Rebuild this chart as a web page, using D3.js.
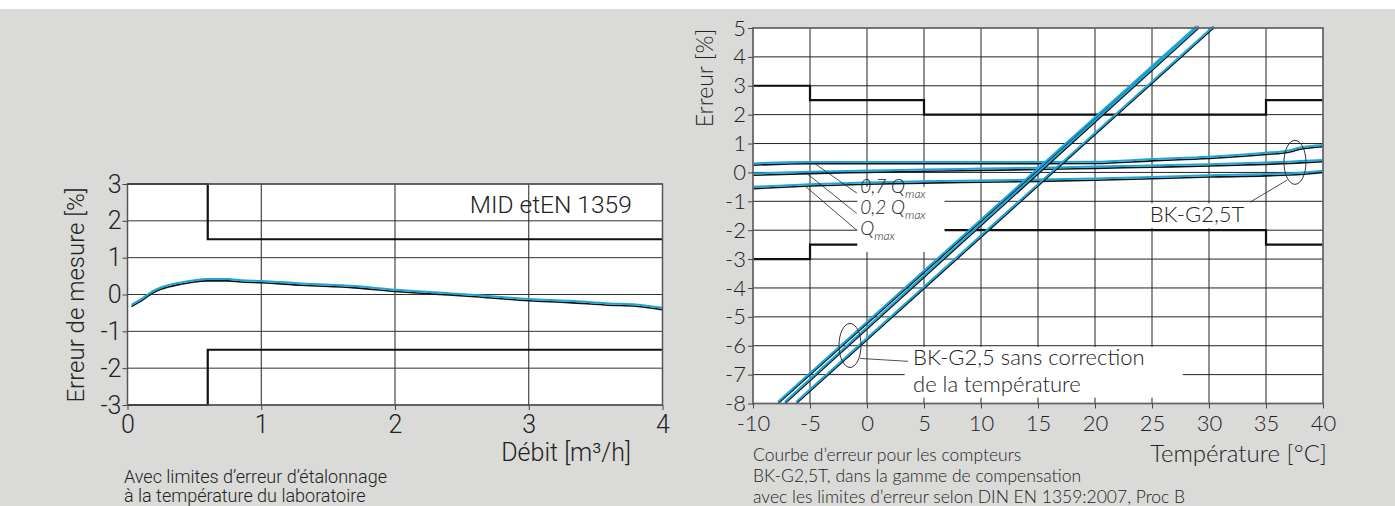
<!DOCTYPE html>
<html>
<head>
<meta charset="utf-8">
<script src="https://cdn.jsdelivr.net/npm/d3@7"></script>
<style>
  body { margin: 0; background: #dadad8; }
  svg { display: block; }
  .lf { font-family: Roboto, sans-serif; font-weight: 300; fill: #222; }
  .rf { font-family: Lato, sans-serif; font-weight: 300; fill: #222; }
</style>
</head>
<body>
<svg id="chart" width="1395" height="506"></svg>
<script>
// left chart: error vs flow rate
const flowTicks = [0, 1, 2, 3, 4];
const flowErrTicks = [-3, -2, -1, 0, 1, 2, 3];
const flowX = [0.03, 0.1, 0.2, 0.25, 0.4, 0.5, 0.6, 0.75, 0.85, 1.0, 1.3, 1.7, 2.0, 2.3, 2.6, 3.0, 3.3, 3.6, 3.8, 4.0];
const flowErr = [-0.33, -0.18, 0.06, 0.14, 0.28, 0.34, 0.37, 0.37, 0.34, 0.32, 0.25, 0.18, 0.08, 0.01, -0.06, -0.17, -0.22, -0.29, -0.32, -0.41];
const limitFlow = [0, 0.6, 0.6, 4];
const limitFlowUpper = [3, 3, 1.5, 1.5];
const limitFlowLower = [-3, -3, -1.5, -1.5];

// right chart: error vs temperature
const tempTicks = [-10, -5, 0, 5, 10, 15, 20, 25, 30, 35, 40];
const tempErrTicks = [-8, -7, -6, -5, -4, -3, -2, -1, 0, 1, 2, 3, 4, 5];
const tempX = [-10, -5, 0, 5, 10, 15, 20, 25, 30, 35, 37, 38, 40];
const err07 = [0.25, 0.3, 0.3, 0.3, 0.3, 0.3, 0.31, 0.4, 0.48, 0.62, 0.7, 0.8, 0.89];
const err02 = [-0.1, -0.04, 0.0, 0.04, 0.07, 0.1, 0.14, 0.18, 0.22, 0.28, 0.31, 0.33, 0.37];
const errMax = [-0.56, -0.47, -0.41, -0.37, -0.34, -0.31, -0.27, -0.22, -0.16, -0.12, -0.09, -0.07, 0.0];
const tempLimit = [-10, -5, -5, 5, 5, 35, 35, 40];
const tempLimitUpper = [3, 3, 2.5, 2.5, 2, 2, 2.5, 2.5];
const tempLimitLower = [-3, -3, -2.5, -2.5, -2, -2, -2.5, -2.5];
// uncorrected meters: temperature at error -8 and at error +5
const uncorrTemp = [[-7.8, 28.9], [-7.2, 29.1], [-6.2, 30.4]];
const uncorrErr = [-8, 5];

const svg = d3.select("#chart");
svg.append("rect").attr("width", 1395).attr("height", 9).attr("fill", "#fff");

const cyan = "#1ba5d8";
const fmt = d => String(d);

function drawDouble(g, line, pts) {
  g.append("path").attr("d", line(pts)).attr("fill", "none")
    .attr("stroke", "#111").attr("stroke-width", 1.6);
  g.append("path").attr("d", line(pts)).attr("fill", "none")
    .attr("stroke", cyan).attr("stroke-width", 2)
    .attr("transform", "translate(0,-1.8)");
}

// ---------- left chart ----------
const xL = d3.scaleLinear().domain([0, 4]).range([127.5, 662.5]);
const yL = d3.scaleLinear().domain([-3, 3]).range([405, 184]);
const gl = svg.append("g");

gl.append("rect").attr("x", xL(0)).attr("y", yL(3))
  .attr("width", xL(4) - xL(0)).attr("height", yL(-3) - yL(3)).attr("fill", "#fff");

gl.selectAll(".gx").data(flowTicks.slice(1, -1)).enter().append("line")
  .attr("x1", d => xL(d)).attr("x2", d => xL(d))
  .attr("y1", yL(3)).attr("y2", yL(-3)).attr("stroke", "#222").attr("stroke-width", 1);
gl.selectAll(".gy").data(flowErrTicks).enter().append("line")
  .attr("x1", xL(0)).attr("x2", xL(4))
  .attr("y1", d => yL(d)).attr("y2", d => yL(d)).attr("stroke", "#333").attr("stroke-width", 1);

const lineL = d3.line().x(d => xL(d[0])).y(d => yL(d[1]));
[limitFlowUpper, limitFlowLower].forEach(lim => {
  gl.append("path").attr("d", lineL(limitFlow.map((x, i) => [x, lim[i]])))
    .attr("fill", "none").attr("stroke", "#111").attr("stroke-width", 2.2);
});

drawDouble(gl, lineL.curve(d3.curveMonotoneX), flowX.map((x, i) => [x, flowErr[i]]));

gl.append("rect").attr("x", xL(0)).attr("y", yL(3))
  .attr("width", xL(4) - xL(0)).attr("height", yL(-3) - yL(3))
  .attr("fill", "none").attr("stroke", "#555").attr("stroke-width", 1.5);

const axL = gl.append("g").attr("transform", `translate(${xL(0)},0)`)
  .call(d3.axisLeft(yL).tickValues(flowErrTicks).tickFormat(fmt).tickSize(5).tickPadding(1));
const axLb = gl.append("g").attr("transform", `translate(0,${yL(-3)})`)
  .call(d3.axisBottom(xL).tickValues(flowTicks).tickFormat(fmt).tickSize(5).tickPadding(5));
[axL, axLb].forEach(a => {
  a.select(".domain").remove();
  a.selectAll("line").attr("stroke", "#444");
  a.selectAll("text").attr("class", "lf").style("font-size", "25px");
});

gl.append("text").attr("class", "lf").attr("transform", "translate(84,295) rotate(-90)")
  .attr("text-anchor", "middle").style("font-size", "24px").text("Erreur de mesure [%]");
gl.append("text").attr("class", "lf").attr("x", xL(3.77)).attr("y", yL(2.2))
  .attr("text-anchor", "end").style("font-size", "24.5px").text("MID etEN 1359");
gl.append("text").attr("class", "lf").attr("x", 631).attr("y", 461)
  .attr("text-anchor", "end").style("font-size", "25px").text("Débit [m³/h]");
gl.append("text").attr("class", "lf").attr("x", 124).attr("y", 483)
  .style("font-size", "18px").text("Avec limites d’erreur d’étalonnage");
gl.append("text").attr("class", "lf").attr("x", 124).attr("y", 501.5)
  .style("font-size", "18px").text("à la température du laboratoire");

// ---------- right chart ----------
const xR = d3.scaleLinear().domain([-10, 40]).range([753, 1323]);
const yR = d3.scaleLinear().domain([-8, 5]).range([403.5, 28]);
const gr = svg.append("g");

gr.append("rect").attr("x", xR(-10)).attr("y", yR(5))
  .attr("width", xR(40) - xR(-10)).attr("height", yR(-8) - yR(5)).attr("fill", "#fff");

gr.selectAll(".gx").data(tempTicks.slice(1, -1)).enter().append("line")
  .attr("x1", d => xR(d)).attr("x2", d => xR(d))
  .attr("y1", yR(5)).attr("y2", yR(-8)).attr("stroke", "#222").attr("stroke-width", 1);
gr.selectAll(".gy").data(tempErrTicks.slice(1, -1)).enter().append("line")
  .attr("x1", xR(-10)).attr("x2", xR(40))
  .attr("y1", d => yR(d)).attr("y2", d => yR(d)).attr("stroke", "#222").attr("stroke-width", 1);

const lineR = d3.line().x(d => xR(d[0])).y(d => yR(d[1]));
[tempLimitUpper, tempLimitLower].forEach(lim => {
  gr.append("path").attr("d", lineR(tempLimit.map((x, i) => [x, lim[i]])))
    .attr("fill", "none").attr("stroke", "#111").attr("stroke-width", 2.2);
});

const smooth = d3.line().x(d => xR(d[0])).y(d => yR(d[1])).curve(d3.curveMonotoneX);
[err07, err02, errMax].forEach(s => drawDouble(gr, smooth, tempX.map((x, i) => [x, s[i]])));
uncorrTemp.forEach(t => drawDouble(gr, lineR, [[t[0], uncorrErr[0]], [t[1], uncorrErr[1]]]));

// white label boxes
const boxes = [[-0.85, 6.8, -0.5, -2.75], [24.6, 33.6, -1.07, -1.93], [3.3, 27.7, -6.04, -7.8]];
gr.selectAll(".box").data(boxes).enter().append("rect")
  .attr("x", d => xR(d[0])).attr("width", d => xR(d[1]) - xR(d[0]))
  .attr("y", d => yR(d[2])).attr("height", d => yR(d[3]) - yR(d[2])).attr("fill", "#fff");

// leaders
const leaders = [
  [[-4.56, 0.3], [-0.88, -0.72]],
  [[-5.3, -0.03], [-0.9, -1.42]],
  [[-5.44, -0.47], [-0.9, -2.0]],
  [[36.84, -0.27], [33.6, -1.03]],
  [[-0.61, -6.44], [3.6, -6.54]]
];
leaders.forEach(l => gr.append("path").attr("d", lineR(l))
  .attr("stroke", "#222").attr("stroke-width", 0.8).attr("fill", "none"));

const ellipses = [[-1.49, -5.99], [37.54, 0.35]];
gr.selectAll(".ell").data(ellipses).enter().append("ellipse")
  .attr("cx", d => xR(d[0])).attr("cy", d => yR(d[1])).attr("rx", 11).attr("ry", 22)
  .attr("fill", "none").attr("stroke", "#333").attr("stroke-width", 1);

const qLabels = [["0,7 Q", -0.72], ["0,2 Q", -1.43], ["Q", -2.16]];
qLabels.forEach(q => {
  const t = gr.append("text").attr("class", "rf").attr("x", xR(-0.6)).attr("y", yR(q[1]))
    .style("font-size", "19px").style("font-style", "italic");
  t.append("tspan").text(q[0]);
  t.append("tspan").attr("dy", 5).style("font-size", "12px").text("max");
});

gr.append("text").attr("class", "rf").attr("x", xR(24.8)).attr("y", yR(-1.71))
  .style("font-size", "22px").text("BK-G2,5T");
gr.append("text").attr("class", "rf").attr("x", xR(4.04)).attr("y", yR(-6.68))
  .style("font-size", "22px").text("BK-G2,5 sans correction");
gr.append("text").attr("class", "rf").attr("x", xR(4.04)).attr("y", yR(-7.6))
  .style("font-size", "22px").text("de la température");

gr.append("rect").attr("x", xR(-10)).attr("y", yR(5))
  .attr("width", xR(40) - xR(-10)).attr("height", yR(-8) - yR(5))
  .attr("fill", "none").attr("stroke", "#666").attr("stroke-width", 1.8);

const axR = gr.append("g").attr("transform", `translate(${xR(-10)},0)`)
  .call(d3.axisLeft(yR).tickValues(tempErrTicks).tickFormat(fmt).tickSize(5).tickPadding(2));
const axRb = gr.append("g").attr("transform", `translate(0,${yR(-8)})`)
  .call(d3.axisBottom(xR).tickValues(tempTicks).tickFormat(fmt).tickSize(5).tickPadding(7));
[axR, axRb].forEach(a => {
  a.select(".domain").remove();
  a.selectAll("line").attr("stroke", "#444");
  a.selectAll("text").attr("class", "rf").style("font-size", "22px");
});

gr.append("text").attr("class", "rf").attr("transform", "translate(713,78) rotate(-90)")
  .attr("text-anchor", "middle").style("font-size", "23px").text("Erreur [%]");
gr.append("text").attr("class", "rf").attr("x", 1327).attr("y", 461.5)
  .attr("text-anchor", "end").style("font-size", "24px").text("Température [°C]");
const capR = ["Courbe d’erreur pour les compteurs",
  "BK-G2,5T, dans la gamme de compensation",
  "avec les limites d’erreur selon DIN EN 1359:2007, Proc B"];
capR.forEach((c, i) => gr.append("text").attr("class", "rf")
  .attr("x", 753).attr("y", 461 + i * 21.2).style("font-size", "17.5px").text(c));
</script>
</body>
</html>
